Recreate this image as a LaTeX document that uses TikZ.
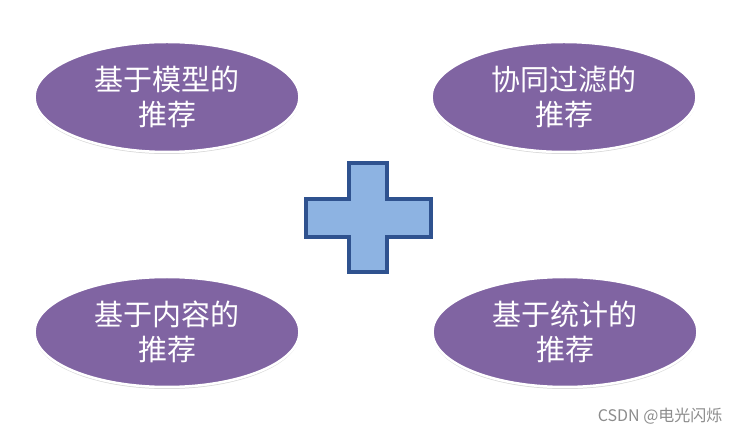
\documentclass[tikz,border=0pt]{standalone}
\usepackage{fontspec}
\newfontfamily\cjk{Noto Sans CJK SC}
\usetikzlibrary{shapes.geometric,shadows}
\definecolor{purp}{HTML}{8064A2}
\definecolor{plusfill}{HTML}{8DB3E2}
\definecolor{plusline}{HTML}{2F528F}
\begin{document}
\begin{tikzpicture}[x=1pt,y=1pt,
  bubble/.style={ellipse, fill=purp, draw=white, line width=2.5pt, minimum width=265pt, minimum height=110pt, inner sep=0pt,
    text=white, font=\cjk\fontsize{29}{35}\selectfont, align=center,
    drop shadow={shadow xshift=0pt, shadow yshift=-2pt, opacity=0.25, fill=black!60}},
  wmark/.style={text=black!45, font=\cjk\fontsize{16}{18}\selectfont, anchor=east}]
\useasboundingbox (0,0) rectangle (741,436);
\fill[white] (0,0) rectangle (741,436);
\node[bubble] (a) at (167,339) {基于模型的\\推荐};
\node[bubble] (b) at (564,339) {协同过滤的\\推荐};
\node[bubble] (c) at (167,104) {基于内容的\\推荐};
\node[bubble] (d) at (565,104) {基于统计的\\推荐};
\draw[fill=plusfill, draw=plusline, line width=3.5pt, line join=miter]
  (349,273) -- (387,273) -- (387,237) -- (431,237) -- (431,199) -- (387,199)
  -- (387,164) -- (349,164) -- (349,199) -- (306,199) -- (306,237) -- (349,237) -- cycle;
\node[wmark] (w) at (726,20) {CSDN @电光闪烁};
\end{tikzpicture}
\end{document}
